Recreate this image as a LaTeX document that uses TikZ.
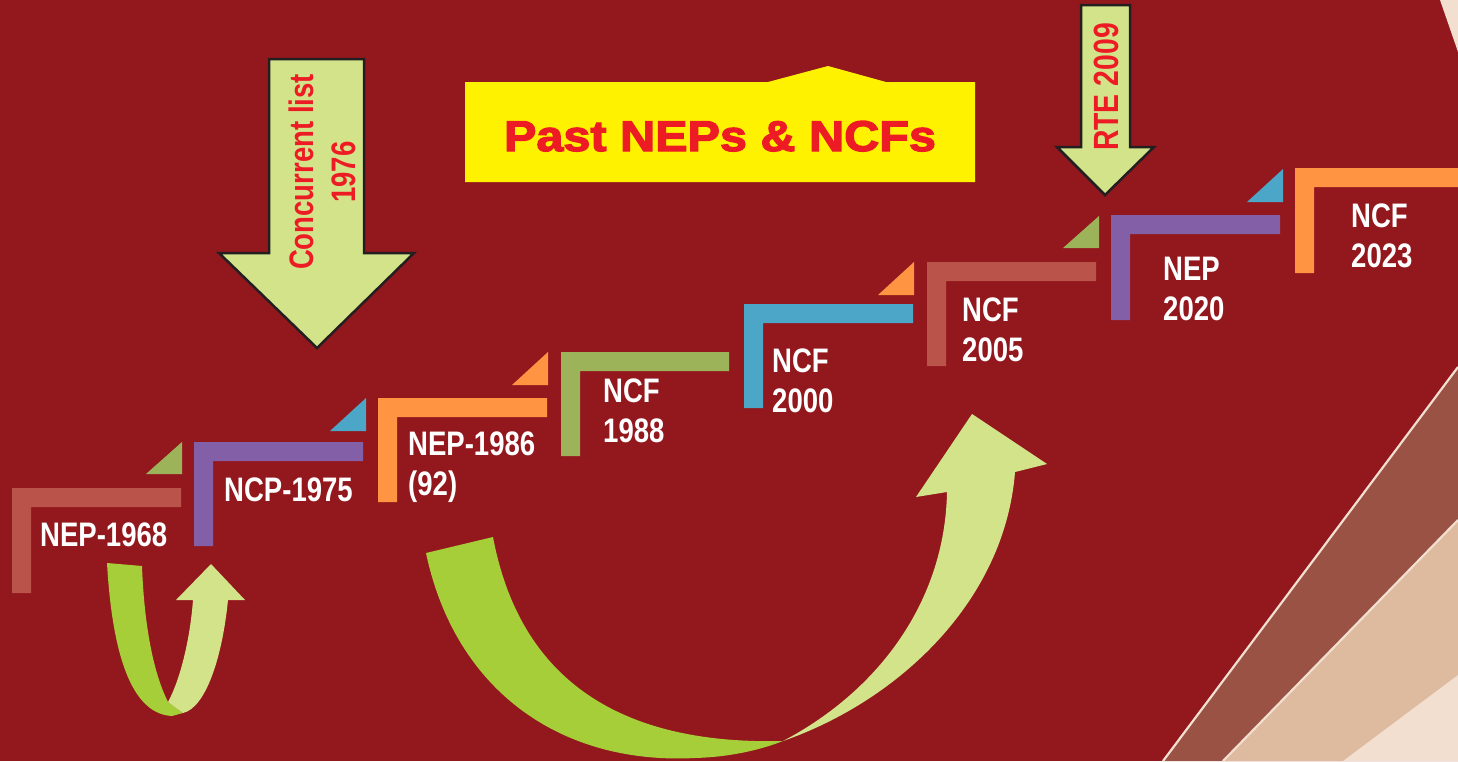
\documentclass[tikz,border=0pt]{standalone}
\usepackage{fontspec}
\newfontfamily\lblfont[FakeStretch=0.81]{Liberation Sans}
\newfontfamily\ttlfont[FakeStretch=1.13,FakeBold=3]{Liberation Sans}
\definecolor{bg}{HTML}{93181D}
\definecolor{csal}{HTML}{BA544B}
\definecolor{cpur}{HTML}{835FA8}
\definecolor{cora}{HTML}{FF9442}
\definecolor{coli}{HTML}{9DB35A}
\definecolor{cblu}{HTML}{4BA6C7}
\definecolor{lgreen}{HTML}{D3E38A}
\definecolor{dgreen}{HTML}{A6CE39}
\definecolor{tred}{HTML}{ED1C24}
\definecolor{tyel}{HTML}{FFF200}
\definecolor{outl}{HTML}{231F20}
\definecolor{sbrown}{HTML}{9A5245}
\definecolor{stan}{HTML}{DEBA9E}
\definecolor{scream}{HTML}{F2DFD0}
\tikzset{
  lbl/.style={text=white, font=\lblfont\bfseries\fontsize{34}{39.5}\selectfont, anchor=base west, align=left, inner sep=0pt},
  atext/.style={text=tred, font=\lblfont\bfseries\fontsize{35}{42}\selectfont, rotate=90, align=center, inner sep=0pt},
  downarrow/.style={fill=lgreen, draw=outl, line width=2.5pt, line join=miter},
}
\begin{document}
\begin{tikzpicture}[x=1pt,y=-1pt]
\fill[bg] (0,0) rectangle (1458,761);
\useasboundingbox (0,0) rectangle (1458,761);
% right-hand decorations
\fill[scream] (1440,0) -- (1458,52) -- (1458,0) -- cycle;
\fill[sbrown] (1163,761) -- (1458,367) -- (1458,761) -- cycle;
\fill[stan] (1223,761) -- (1458,520) -- (1458,761) -- cycle;
\fill[scream] (1343,761) -- (1458,675) -- (1458,761) -- cycle;
\draw[scream, line width=2.2pt] (1163,761) -- (1458,367);
\draw[scream, line width=2.2pt] (1223,761) -- (1458,520);
% steps
\foreach \l/\t/\r/\b/\c in {12/488/181/593/csal, 194/442/363/546/cpur, 378/398/547/502/cora, 561/352/729/456/coli, 744/304/913/408/cblu, 927/262/1096/366/csal, 1111/215/1280/320/cpur, 1295/168/1458/273/cora}
  \fill[\c] (\l,\t) -- (\r,\t) -- (\r,\t+19) -- (\l+19,\t+19) -- (\l+19,\b) -- (\l,\b) -- cycle;
% triangles
\foreach \l/\r/\t/\b/\c in {146/182/442/474/coli, 330/366/398/431/cblu, 512/548/352/385/cora, 878/914/262/295/cora, 1063/1099/216/248/coli, 1247/1283/169/202/cblu}
  \fill[\c] (\l,\b) -- (\r,\b) -- (\r,\t) -- cycle;
% labels (anchor = baseline of the last line)
\node[lbl] (nep68) at (40,546) {NEP-1968};
\node[lbl] (ncp75) at (224,501) {NCP-1975};
\node[lbl] (nep86) at (408,495) {NEP-1986\\(92)};
\node[lbl] (ncf88) at (603,442) {NCF\\1988};
\node[lbl] (ncf00) at (772,412) {NCF\\2000};
\node[lbl] (ncf05) at (962,361) {NCF\\2005};
\node[lbl] (nep20) at (1163,320) {NEP\\2020};
\node[lbl] (ncf23) at (1351,267) {NCF\\2023};
% title box
\fill[tyel] (465,82) -- (768,82) -- (828,66) -- (886,82) -- (975,82) -- (975,182) -- (465,182) -- cycle;
\node[text=tred, font=\ttlfont\bfseries\fontsize{43}{50}\selectfont, anchor=base, inner sep=0pt] (title) at (720,151) {Past NEPs \& NCFs};
% down arrows
\draw[downarrow] (269,59) -- (364,59) -- (364,253) -- (414,253) -- (317,348) -- (219,253) -- (269,253) -- cycle;
\node[atext, font=\lblfont\bfseries\fontsize{34}{42}\selectfont] (conc) at (322,172) {Concurrent list\\1976};
\draw[downarrow] (1081,5) -- (1130,5) -- (1130,147) -- (1154,147) -- (1105,195) -- (1057,147) -- (1081,147) -- cycle;
\node[atext, anchor=base] (rte) at (1118.5,87) {RTE 2009};
% small U-turn arrow
\fill[dgreen] (107,563) .. controls (112,650) and (130,714) .. (172,716) -- (183,713) -- (168,702) .. controls (152,670) and (144,620) .. (142,566) -- cycle;
\fill[lgreen] (168,702) -- (183,713) .. controls (205,708) and (222,660) .. (228,600) -- (245,600) -- (211,564) -- (176,600) -- (193,600) .. controls (190,640) and (180,680) .. (168,702) -- cycle;
% big curved arrow
\fill[dgreen] (426,553) .. controls (455,690) and (560,765) .. (695,758) .. controls (730,757) and (760,750) .. (783,741) .. controls (620,745) and (520,680) .. (493,537) -- cycle;
\fill[lgreen] (783,741) .. controls (900,700) and (1005,600) .. (1015,472) -- (1047,464) -- (972,414) -- (916,497) -- (947,492) .. controls (945,600) and (880,690) .. (783,741) -- cycle;
\end{tikzpicture}
\end{document}
